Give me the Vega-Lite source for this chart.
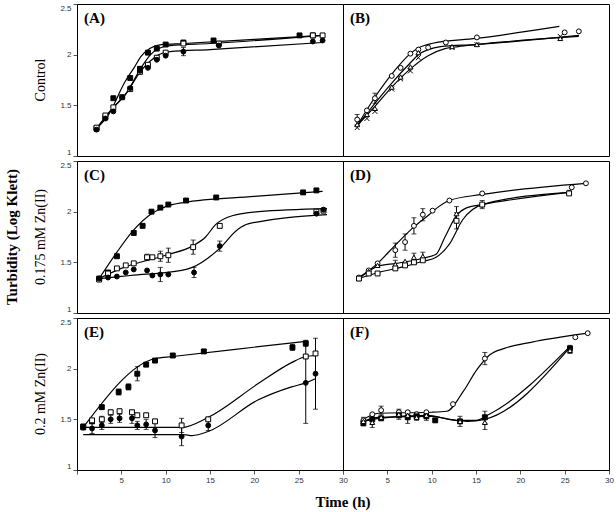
{
  "$schema": "https://vega.github.io/schema/vega-lite/v6.json",
  "background": "white",
  "padding": {"left": 4, "top": 3, "right": 2, "bottom": 0},
  "bounds": "flush",
  "datasets": {
    "panels": [
      {"p": "(A)", "r": "Control", "c": 1},
      {"p": "(B)", "r": "Control", "c": 2},
      {"p": "(C)", "r": "0.175 mM Zn(II)", "c": 1},
      {"p": "(D)", "r": "0.175 mM Zn(II)", "c": 2},
      {"p": "(E)", "r": "0.2 mM Zn(II)", "c": 1},
      {"p": "(F)", "r": "0.2 mM Zn(II)", "c": 2}
    ]
  },
  "data": {"values": [
    {"p":"(A)","k":"pt","s":1,"m":"sq","t":2.2,"v":1.27},
    {"p":"(A)","k":"pt","s":1,"m":"sq","t":3.2,"v":1.38},
    {"p":"(A)","k":"pt","s":1,"m":"sq","t":4.1,"v":1.57},
    {"p":"(A)","k":"pt","s":1,"m":"sq","t":6.0,"v":1.77},
    {"p":"(A)","k":"pt","s":1,"m":"sq","t":7.1,"v":1.86},
    {"p":"(A)","k":"pt","s":1,"m":"sq","t":8.0,"v":2.02},
    {"p":"(A)","k":"pt","s":1,"m":"sq","t":9.0,"v":2.06},
    {"p":"(A)","k":"pt","s":1,"m":"sq","t":10.0,"v":2.10},
    {"p":"(A)","k":"pt","s":1,"m":"sq","t":12.0,"v":2.12,"e":0.02},
    {"p":"(A)","k":"pt","s":1,"m":"sq","t":15.4,"v":2.14},
    {"p":"(A)","k":"pt","s":1,"m":"sq","t":25.1,"v":2.19},
    {"p":"(A)","k":"pt","s":1,"m":"sq","t":26.6,"v":2.19},
    {"p":"(A)","k":"pt","s":2,"m":"osq","t":2.2,"v":1.28},
    {"p":"(A)","k":"pt","s":2,"m":"osq","t":3.2,"v":1.40},
    {"p":"(A)","k":"pt","s":2,"m":"osq","t":4.1,"v":1.48},
    {"p":"(A)","k":"pt","s":2,"m":"osq","t":5.1,"v":1.58},
    {"p":"(A)","k":"pt","s":2,"m":"osq","t":6.0,"v":1.66},
    {"p":"(A)","k":"pt","s":2,"m":"osq","t":7.1,"v":1.83},
    {"p":"(A)","k":"pt","s":2,"m":"osq","t":8.0,"v":1.90},
    {"p":"(A)","k":"pt","s":2,"m":"osq","t":9.0,"v":1.97},
    {"p":"(A)","k":"pt","s":2,"m":"osq","t":10.0,"v":2.02},
    {"p":"(A)","k":"pt","s":2,"m":"osq","t":12.0,"v":2.11},
    {"p":"(A)","k":"pt","s":2,"m":"osq","t":16.0,"v":2.11},
    {"p":"(A)","k":"pt","s":2,"m":"osq","t":26.6,"v":2.19},
    {"p":"(A)","k":"pt","s":2,"m":"osq","t":27.7,"v":2.19},
    {"p":"(A)","k":"pt","s":3,"m":"ci","t":2.2,"v":1.26},
    {"p":"(A)","k":"pt","s":3,"m":"ci","t":3.2,"v":1.37},
    {"p":"(A)","k":"pt","s":3,"m":"ci","t":4.1,"v":1.44},
    {"p":"(A)","k":"pt","s":3,"m":"ci","t":5.1,"v":1.58},
    {"p":"(A)","k":"pt","s":3,"m":"ci","t":6.0,"v":1.67},
    {"p":"(A)","k":"pt","s":3,"m":"ci","t":7.1,"v":1.84},
    {"p":"(A)","k":"pt","s":3,"m":"ci","t":8.0,"v":1.87},
    {"p":"(A)","k":"pt","s":3,"m":"ci","t":9.0,"v":1.95},
    {"p":"(A)","k":"pt","s":3,"m":"ci","t":10.0,"v":1.99},
    {"p":"(A)","k":"pt","s":3,"m":"ci","t":12.0,"v":2.03,"e":0.04},
    {"p":"(A)","k":"pt","s":3,"m":"ci","t":16.0,"v":2.09},
    {"p":"(A)","k":"pt","s":3,"m":"ci","t":26.6,"v":2.13},
    {"p":"(A)","k":"pt","s":3,"m":"ci","t":27.7,"v":2.14},
    {"p":"(A)","k":"fit","s":1,"t":2.2,"v":1.27},
    {"p":"(A)","k":"fit","s":1,"t":3.5,"v":1.40},
    {"p":"(A)","k":"fit","s":1,"t":5.4,"v":1.73},
    {"p":"(A)","k":"fit","s":1,"t":6.5,"v":1.88},
    {"p":"(A)","k":"fit","s":1,"t":7.2,"v":1.98},
    {"p":"(A)","k":"fit","s":1,"t":8.2,"v":2.06},
    {"p":"(A)","k":"fit","s":1,"t":9.5,"v":2.10},
    {"p":"(A)","k":"fit","s":1,"t":12.0,"v":2.11},
    {"p":"(A)","k":"fit","s":1,"t":20.0,"v":2.15},
    {"p":"(A)","k":"fit","s":1,"t":27.7,"v":2.19},
    {"p":"(A)","k":"fit","s":2,"t":2.2,"v":1.27},
    {"p":"(A)","k":"fit","s":2,"t":4.0,"v":1.47},
    {"p":"(A)","k":"fit","s":2,"t":5.4,"v":1.60},
    {"p":"(A)","k":"fit","s":2,"t":7.3,"v":1.88},
    {"p":"(A)","k":"fit","s":2,"t":8.3,"v":2.00},
    {"p":"(A)","k":"fit","s":2,"t":9.2,"v":2.06},
    {"p":"(A)","k":"fit","s":2,"t":10.5,"v":2.09},
    {"p":"(A)","k":"fit","s":2,"t":15.0,"v":2.11},
    {"p":"(A)","k":"fit","s":2,"t":27.7,"v":2.19},
    {"p":"(A)","k":"fit","s":3,"t":2.2,"v":1.27},
    {"p":"(A)","k":"fit","s":3,"t":4.0,"v":1.47},
    {"p":"(A)","k":"fit","s":3,"t":5.4,"v":1.60},
    {"p":"(A)","k":"fit","s":3,"t":7.3,"v":1.85},
    {"p":"(A)","k":"fit","s":3,"t":8.3,"v":1.94},
    {"p":"(A)","k":"fit","s":3,"t":9.2,"v":2.00},
    {"p":"(A)","k":"fit","s":3,"t":10.5,"v":2.03},
    {"p":"(A)","k":"fit","s":3,"t":15.0,"v":2.05},
    {"p":"(A)","k":"fit","s":3,"t":27.7,"v":2.12},

    {"p":"(B)","k":"pt","s":1,"m":"oci","t":1.6,"v":1.36,"e":0.05},
    {"p":"(B)","k":"pt","s":1,"m":"oci","t":2.7,"v":1.45},
    {"p":"(B)","k":"pt","s":1,"m":"oci","t":3.6,"v":1.57,"e":0.05},
    {"p":"(B)","k":"pt","s":1,"m":"oci","t":5.5,"v":1.79},
    {"p":"(B)","k":"pt","s":1,"m":"oci","t":6.5,"v":1.87},
    {"p":"(B)","k":"pt","s":1,"m":"oci","t":7.6,"v":2.01},
    {"p":"(B)","k":"pt","s":1,"m":"oci","t":8.5,"v":2.05},
    {"p":"(B)","k":"pt","s":1,"m":"oci","t":9.6,"v":2.07},
    {"p":"(B)","k":"pt","s":1,"m":"oci","t":11.6,"v":2.12},
    {"p":"(B)","k":"pt","s":1,"m":"oci","t":15.1,"v":2.17},
    {"p":"(B)","k":"pt","s":1,"m":"oci","t":25.0,"v":2.22},
    {"p":"(B)","k":"pt","s":1,"m":"oci","t":26.6,"v":2.23},
    {"p":"(B)","k":"pt","s":2,"m":"x","t":1.6,"v":1.28},
    {"p":"(B)","k":"pt","s":2,"m":"x","t":2.7,"v":1.37},
    {"p":"(B)","k":"pt","s":2,"m":"x","t":3.6,"v":1.44},
    {"p":"(B)","k":"pt","s":2,"m":"x","t":5.5,"v":1.66},
    {"p":"(B)","k":"pt","s":2,"m":"x","t":6.5,"v":1.76},
    {"p":"(B)","k":"pt","s":2,"m":"x","t":7.6,"v":1.84},
    {"p":"(B)","k":"pt","s":2,"m":"x","t":8.5,"v":1.97},
    {"p":"(B)","k":"pt","s":2,"m":"x","t":12.3,"v":2.07},
    {"p":"(B)","k":"pt","s":2,"m":"x","t":15.1,"v":2.10},
    {"p":"(B)","k":"pt","s":2,"m":"x","t":24.5,"v":2.18},
    {"p":"(B)","k":"pt","s":3,"m":"tri","t":1.6,"v":1.31},
    {"p":"(B)","k":"pt","s":3,"m":"tri","t":2.7,"v":1.41},
    {"p":"(B)","k":"pt","s":3,"m":"tri","t":3.6,"v":1.47},
    {"p":"(B)","k":"pt","s":3,"m":"tri","t":5.5,"v":1.68},
    {"p":"(B)","k":"pt","s":3,"m":"tri","t":6.5,"v":1.78},
    {"p":"(B)","k":"pt","s":3,"m":"tri","t":7.6,"v":1.88},
    {"p":"(B)","k":"pt","s":3,"m":"tri","t":8.5,"v":2.02},
    {"p":"(B)","k":"pt","s":3,"m":"tri","t":12.3,"v":2.08},
    {"p":"(B)","k":"pt","s":3,"m":"tri","t":15.1,"v":2.10},
    {"p":"(B)","k":"pt","s":3,"m":"tri","t":24.5,"v":2.16},
    {"p":"(B)","k":"fit","s":1,"t":1.6,"v":1.30},
    {"p":"(B)","k":"fit","s":1,"t":3.6,"v":1.58},
    {"p":"(B)","k":"fit","s":1,"t":5.8,"v":1.84},
    {"p":"(B)","k":"fit","s":1,"t":7.6,"v":2.01},
    {"p":"(B)","k":"fit","s":1,"t":8.6,"v":2.07},
    {"p":"(B)","k":"fit","s":1,"t":10.0,"v":2.11},
    {"p":"(B)","k":"fit","s":1,"t":15.0,"v":2.16},
    {"p":"(B)","k":"fit","s":1,"t":24.4,"v":2.28},
    {"p":"(B)","k":"fit","s":2,"t":1.6,"v":1.30},
    {"p":"(B)","k":"fit","s":2,"t":3.6,"v":1.52},
    {"p":"(B)","k":"fit","s":2,"t":5.5,"v":1.72},
    {"p":"(B)","k":"fit","s":2,"t":7.6,"v":1.92},
    {"p":"(B)","k":"fit","s":2,"t":8.5,"v":2.00},
    {"p":"(B)","k":"fit","s":2,"t":9.6,"v":2.05},
    {"p":"(B)","k":"fit","s":2,"t":11.0,"v":2.08},
    {"p":"(B)","k":"fit","s":2,"t":15.0,"v":2.10},
    {"p":"(B)","k":"fit","s":2,"t":26.6,"v":2.19},
    {"p":"(B)","k":"fit","s":3,"t":1.6,"v":1.30},
    {"p":"(B)","k":"fit","s":3,"t":3.6,"v":1.49},
    {"p":"(B)","k":"fit","s":3,"t":5.5,"v":1.68},
    {"p":"(B)","k":"fit","s":3,"t":7.6,"v":1.86},
    {"p":"(B)","k":"fit","s":3,"t":9.6,"v":1.99},
    {"p":"(B)","k":"fit","s":3,"t":11.5,"v":2.06},
    {"p":"(B)","k":"fit","s":3,"t":13.0,"v":2.08},
    {"p":"(B)","k":"fit","s":3,"t":15.0,"v":2.10},
    {"p":"(B)","k":"fit","s":3,"t":26.6,"v":2.18},

    {"p":"(C)","k":"pt","s":1,"m":"sq","t":2.5,"v":1.34},
    {"p":"(C)","k":"pt","s":1,"m":"sq","t":3.5,"v":1.40},
    {"p":"(C)","k":"pt","s":1,"m":"sq","t":4.5,"v":1.56},
    {"p":"(C)","k":"pt","s":1,"m":"sq","t":6.4,"v":1.79},
    {"p":"(C)","k":"pt","s":1,"m":"sq","t":7.4,"v":1.86},
    {"p":"(C)","k":"pt","s":1,"m":"sq","t":8.4,"v":2.00},
    {"p":"(C)","k":"pt","s":1,"m":"sq","t":9.4,"v":2.04},
    {"p":"(C)","k":"pt","s":1,"m":"sq","t":10.3,"v":2.07},
    {"p":"(C)","k":"pt","s":1,"m":"sq","t":12.3,"v":2.11},
    {"p":"(C)","k":"pt","s":1,"m":"sq","t":15.7,"v":2.14},
    {"p":"(C)","k":"pt","s":1,"m":"sq","t":25.5,"v":2.19},
    {"p":"(C)","k":"pt","s":1,"m":"sq","t":27.0,"v":2.21},
    {"p":"(C)","k":"pt","s":2,"m":"osq","t":2.5,"v":1.33},
    {"p":"(C)","k":"pt","s":2,"m":"osq","t":3.5,"v":1.39},
    {"p":"(C)","k":"pt","s":2,"m":"osq","t":4.5,"v":1.44},
    {"p":"(C)","k":"pt","s":2,"m":"osq","t":5.5,"v":1.47},
    {"p":"(C)","k":"pt","s":2,"m":"osq","t":6.4,"v":1.49},
    {"p":"(C)","k":"pt","s":2,"m":"osq","t":7.9,"v":1.55,"e":0.03},
    {"p":"(C)","k":"pt","s":2,"m":"osq","t":8.5,"v":1.55},
    {"p":"(C)","k":"pt","s":2,"m":"osq","t":9.4,"v":1.56,"e":0.05},
    {"p":"(C)","k":"pt","s":2,"m":"osq","t":10.3,"v":1.57,"e":0.07},
    {"p":"(C)","k":"pt","s":2,"m":"osq","t":13.1,"v":1.65,"e":0.07},
    {"p":"(C)","k":"pt","s":2,"m":"osq","t":16.1,"v":1.86,"e":0.02},
    {"p":"(C)","k":"pt","s":2,"m":"osq","t":27.0,"v":2.00},
    {"p":"(C)","k":"pt","s":2,"m":"osq","t":27.8,"v":2.01},
    {"p":"(C)","k":"pt","s":3,"m":"ci","t":2.5,"v":1.34},
    {"p":"(C)","k":"pt","s":3,"m":"ci","t":3.5,"v":1.35},
    {"p":"(C)","k":"pt","s":3,"m":"ci","t":4.5,"v":1.36},
    {"p":"(C)","k":"pt","s":3,"m":"ci","t":5.5,"v":1.40},
    {"p":"(C)","k":"pt","s":3,"m":"ci","t":6.4,"v":1.43},
    {"p":"(C)","k":"pt","s":3,"m":"ci","t":7.9,"v":1.42},
    {"p":"(C)","k":"pt","s":3,"m":"ci","t":8.5,"v":1.37},
    {"p":"(C)","k":"pt","s":3,"m":"ci","t":9.4,"v":1.38,"e":0.07},
    {"p":"(C)","k":"pt","s":3,"m":"ci","t":10.3,"v":1.38},
    {"p":"(C)","k":"pt","s":3,"m":"ci","t":13.2,"v":1.40,"e":0.05},
    {"p":"(C)","k":"pt","s":3,"m":"ci","t":16.1,"v":1.66,"e":0.05},
    {"p":"(C)","k":"pt","s":3,"m":"ci","t":27.0,"v":1.98},
    {"p":"(C)","k":"pt","s":3,"m":"ci","t":27.8,"v":2.02},
    {"p":"(C)","k":"fit","s":1,"t":2.5,"v":1.34},
    {"p":"(C)","k":"fit","s":1,"t":4.5,"v":1.60},
    {"p":"(C)","k":"fit","s":1,"t":6.4,"v":1.82},
    {"p":"(C)","k":"fit","s":1,"t":8.4,"v":1.98},
    {"p":"(C)","k":"fit","s":1,"t":10.0,"v":2.05},
    {"p":"(C)","k":"fit","s":1,"t":12.0,"v":2.09},
    {"p":"(C)","k":"fit","s":1,"t":20.0,"v":2.15},
    {"p":"(C)","k":"fit","s":1,"t":27.7,"v":2.20},
    {"p":"(C)","k":"fit","s":2,"t":2.5,"v":1.34},
    {"p":"(C)","k":"fit","s":2,"t":5.0,"v":1.44},
    {"p":"(C)","k":"fit","s":2,"t":10.0,"v":1.57},
    {"p":"(C)","k":"fit","s":2,"t":13.0,"v":1.66},
    {"p":"(C)","k":"fit","s":2,"t":14.5,"v":1.75},
    {"p":"(C)","k":"fit","s":2,"t":15.6,"v":1.87},
    {"p":"(C)","k":"fit","s":2,"t":17.5,"v":1.96},
    {"p":"(C)","k":"fit","s":2,"t":20.5,"v":2.00},
    {"p":"(C)","k":"fit","s":2,"t":28.2,"v":2.03},
    {"p":"(C)","k":"fit","s":3,"t":2.5,"v":1.34},
    {"p":"(C)","k":"fit","s":3,"t":6.0,"v":1.37},
    {"p":"(C)","k":"fit","s":3,"t":11.8,"v":1.42},
    {"p":"(C)","k":"fit","s":3,"t":13.0,"v":1.45},
    {"p":"(C)","k":"fit","s":3,"t":16.0,"v":1.63},
    {"p":"(C)","k":"fit","s":3,"t":18.2,"v":1.83},
    {"p":"(C)","k":"fit","s":3,"t":19.3,"v":1.88},
    {"p":"(C)","k":"fit","s":3,"t":28.2,"v":1.97},

    {"p":"(D)","k":"pt","s":1,"m":"oci","t":1.8,"v":1.35},
    {"p":"(D)","k":"pt","s":1,"m":"oci","t":2.9,"v":1.42},
    {"p":"(D)","k":"pt","s":1,"m":"oci","t":3.9,"v":1.49},
    {"p":"(D)","k":"pt","s":1,"m":"oci","t":5.9,"v":1.62,"e":0.07},
    {"p":"(D)","k":"pt","s":1,"m":"oci","t":7.0,"v":1.70,"e":0.08},
    {"p":"(D)","k":"pt","s":1,"m":"oci","t":8.0,"v":1.86,"e":0.08},
    {"p":"(D)","k":"pt","s":1,"m":"oci","t":9.0,"v":1.97,"e":0.06},
    {"p":"(D)","k":"pt","s":1,"m":"oci","t":10.1,"v":2.01},
    {"p":"(D)","k":"pt","s":1,"m":"oci","t":12.0,"v":2.11},
    {"p":"(D)","k":"pt","s":1,"m":"oci","t":15.7,"v":2.18},
    {"p":"(D)","k":"pt","s":1,"m":"oci","t":25.8,"v":2.24},
    {"p":"(D)","k":"pt","s":1,"m":"oci","t":27.4,"v":2.28},
    {"p":"(D)","k":"pt","s":2,"m":"tri","t":1.8,"v":1.34},
    {"p":"(D)","k":"pt","s":2,"m":"tri","t":2.9,"v":1.41},
    {"p":"(D)","k":"pt","s":2,"m":"tri","t":3.9,"v":1.47},
    {"p":"(D)","k":"pt","s":2,"m":"tri","t":5.9,"v":1.48,"e":0.04},
    {"p":"(D)","k":"pt","s":2,"m":"tri","t":7.0,"v":1.51},
    {"p":"(D)","k":"pt","s":2,"m":"tri","t":8.0,"v":1.55,"e":0.04},
    {"p":"(D)","k":"pt","s":2,"m":"tri","t":9.0,"v":1.56,"e":0.04},
    {"p":"(D)","k":"pt","s":2,"m":"tri","t":12.8,"v":1.98,"e":0.07},
    {"p":"(D)","k":"pt","s":2,"m":"tri","t":15.7,"v":2.07,"e":0.04},
    {"p":"(D)","k":"pt","s":2,"m":"tri","t":25.5,"v":2.19,"e":0.02},
    {"p":"(D)","k":"pt","s":3,"m":"osq","t":1.8,"v":1.34},
    {"p":"(D)","k":"pt","s":3,"m":"osq","t":2.9,"v":1.39},
    {"p":"(D)","k":"pt","s":3,"m":"osq","t":3.9,"v":1.39},
    {"p":"(D)","k":"pt","s":3,"m":"osq","t":5.9,"v":1.44},
    {"p":"(D)","k":"pt","s":3,"m":"osq","t":7.0,"v":1.47},
    {"p":"(D)","k":"pt","s":3,"m":"osq","t":8.0,"v":1.50},
    {"p":"(D)","k":"pt","s":3,"m":"osq","t":9.0,"v":1.52},
    {"p":"(D)","k":"pt","s":3,"m":"osq","t":12.8,"v":1.91,"e":0.08},
    {"p":"(D)","k":"pt","s":3,"m":"osq","t":15.7,"v":2.07},
    {"p":"(D)","k":"pt","s":3,"m":"osq","t":25.5,"v":2.18},
    {"p":"(D)","k":"fit","s":1,"t":1.8,"v":1.35},
    {"p":"(D)","k":"fit","s":1,"t":3.9,"v":1.49},
    {"p":"(D)","k":"fit","s":1,"t":5.9,"v":1.67},
    {"p":"(D)","k":"fit","s":1,"t":8.0,"v":1.85},
    {"p":"(D)","k":"fit","s":1,"t":9.7,"v":1.97},
    {"p":"(D)","k":"fit","s":1,"t":10.5,"v":2.03},
    {"p":"(D)","k":"fit","s":1,"t":12.0,"v":2.11},
    {"p":"(D)","k":"fit","s":1,"t":15.7,"v":2.17},
    {"p":"(D)","k":"fit","s":1,"t":27.4,"v":2.28},
    {"p":"(D)","k":"fit","s":2,"t":1.8,"v":1.34},
    {"p":"(D)","k":"fit","s":2,"t":3.9,"v":1.46},
    {"p":"(D)","k":"fit","s":2,"t":6.0,"v":1.49},
    {"p":"(D)","k":"fit","s":2,"t":9.0,"v":1.54},
    {"p":"(D)","k":"fit","s":2,"t":10.5,"v":1.58},
    {"p":"(D)","k":"fit","s":2,"t":11.5,"v":1.75},
    {"p":"(D)","k":"fit","s":2,"t":12.8,"v":1.96},
    {"p":"(D)","k":"fit","s":2,"t":14.0,"v":2.04},
    {"p":"(D)","k":"fit","s":2,"t":15.7,"v":2.07},
    {"p":"(D)","k":"fit","s":2,"t":25.5,"v":2.19},
    {"p":"(D)","k":"fit","s":3,"t":1.8,"v":1.34},
    {"p":"(D)","k":"fit","s":3,"t":4.0,"v":1.40},
    {"p":"(D)","k":"fit","s":3,"t":7.0,"v":1.46},
    {"p":"(D)","k":"fit","s":3,"t":9.0,"v":1.51},
    {"p":"(D)","k":"fit","s":3,"t":10.5,"v":1.55},
    {"p":"(D)","k":"fit","s":3,"t":12.0,"v":1.68},
    {"p":"(D)","k":"fit","s":3,"t":13.5,"v":1.92},
    {"p":"(D)","k":"fit","s":3,"t":15.7,"v":2.07},
    {"p":"(D)","k":"fit","s":3,"t":25.5,"v":2.19},

    {"p":"(E)","k":"pt","s":1,"m":"sq","t":0.7,"v":1.43},
    {"p":"(E)","k":"pt","s":1,"m":"sq","t":1.7,"v":1.48},
    {"p":"(E)","k":"pt","s":1,"m":"sq","t":2.8,"v":1.62,"e":0.02},
    {"p":"(E)","k":"pt","s":1,"m":"sq","t":4.7,"v":1.77,"e":0.03},
    {"p":"(E)","k":"pt","s":1,"m":"sq","t":5.8,"v":1.82,"e":0.03},
    {"p":"(E)","k":"pt","s":1,"m":"sq","t":6.8,"v":1.95,"e":0.07},
    {"p":"(E)","k":"pt","s":1,"m":"sq","t":7.8,"v":2.04,"e":0.02},
    {"p":"(E)","k":"pt","s":1,"m":"sq","t":8.8,"v":2.08,"e":0.02},
    {"p":"(E)","k":"pt","s":1,"m":"sq","t":10.8,"v":2.13,"e":0.02},
    {"p":"(E)","k":"pt","s":1,"m":"sq","t":14.3,"v":2.17,"e":0.02},
    {"p":"(E)","k":"pt","s":1,"m":"sq","t":24.3,"v":2.21,"e":0.03},
    {"p":"(E)","k":"pt","s":1,"m":"sq","t":25.8,"v":2.25,"e":0.03},
    {"p":"(E)","k":"pt","s":2,"m":"osq","t":0.7,"v":1.42},
    {"p":"(E)","k":"pt","s":2,"m":"osq","t":1.7,"v":1.49},
    {"p":"(E)","k":"pt","s":2,"m":"osq","t":2.8,"v":1.50,"e":0.03},
    {"p":"(E)","k":"pt","s":2,"m":"osq","t":3.8,"v":1.57,"e":0.02},
    {"p":"(E)","k":"pt","s":2,"m":"osq","t":4.8,"v":1.58,"e":0.02},
    {"p":"(E)","k":"pt","s":2,"m":"osq","t":6.2,"v":1.57,"e":0.02},
    {"p":"(E)","k":"pt","s":2,"m":"osq","t":6.8,"v":1.54,"e":0.02},
    {"p":"(E)","k":"pt","s":2,"m":"osq","t":7.8,"v":1.54,"e":0.02},
    {"p":"(E)","k":"pt","s":2,"m":"osq","t":8.8,"v":1.48,"e":0.02},
    {"p":"(E)","k":"pt","s":2,"m":"osq","t":11.8,"v":1.44,"e":0.07},
    {"p":"(E)","k":"pt","s":2,"m":"osq","t":14.8,"v":1.50,"e":0.02},
    {"p":"(E)","k":"pt","s":2,"m":"osq","t":25.8,"v":2.12,"e":0.02},
    {"p":"(E)","k":"pt","s":2,"m":"osq","t":26.9,"v":2.15,"e":0.02},
    {"p":"(E)","k":"pt","s":3,"m":"ci","t":0.7,"v":1.42,"e":0.02},
    {"p":"(E)","k":"pt","s":3,"m":"ci","t":1.7,"v":1.41,"e":0.05},
    {"p":"(E)","k":"pt","s":3,"m":"ci","t":2.8,"v":1.44,"e":0.04},
    {"p":"(E)","k":"pt","s":3,"m":"ci","t":3.8,"v":1.50,"e":0.04},
    {"p":"(E)","k":"pt","s":3,"m":"ci","t":4.8,"v":1.51,"e":0.04},
    {"p":"(E)","k":"pt","s":3,"m":"ci","t":6.2,"v":1.51,"e":0.05},
    {"p":"(E)","k":"pt","s":3,"m":"ci","t":6.8,"v":1.44,"e":0.04},
    {"p":"(E)","k":"pt","s":3,"m":"ci","t":7.8,"v":1.45,"e":0.05},
    {"p":"(E)","k":"pt","s":3,"m":"ci","t":8.8,"v":1.39,"e":0.07},
    {"p":"(E)","k":"pt","s":3,"m":"ci","t":11.8,"v":1.33,"e":0.09},
    {"p":"(E)","k":"pt","s":3,"m":"ci","t":14.8,"v":1.44,"e":0.05},
    {"p":"(E)","k":"pt","s":3,"m":"ci","t":25.8,"v":1.86,"e":0.40},
    {"p":"(E)","k":"pt","s":3,"m":"ci","t":26.9,"v":1.95,"e":0.35},
    {"p":"(E)","k":"fit","s":1,"t":0.7,"v":1.42},
    {"p":"(E)","k":"fit","s":1,"t":8.8,"v":2.10},
    {"p":"(E)","k":"fit","s":1,"t":10.8,"v":2.12},
    {"p":"(E)","k":"fit","s":1,"t":25.8,"v":2.27},
    {"p":"(E)","k":"fit","s":2,"t":0.7,"v":1.42},
    {"p":"(E)","k":"fit","s":2,"t":11.8,"v":1.42},
    {"p":"(E)","k":"fit","s":2,"t":14.8,"v":1.52},
    {"p":"(E)","k":"fit","s":2,"t":20.4,"v":1.85},
    {"p":"(E)","k":"fit","s":2,"t":24.2,"v":2.06},
    {"p":"(E)","k":"fit","s":2,"t":25.8,"v":2.12},
    {"p":"(E)","k":"fit","s":2,"t":26.9,"v":2.13},
    {"p":"(E)","k":"fit","s":3,"t":0.7,"v":1.35},
    {"p":"(E)","k":"fit","s":3,"t":12.0,"v":1.35},
    {"p":"(E)","k":"fit","s":3,"t":13.0,"v":1.34},
    {"p":"(E)","k":"fit","s":3,"t":14.8,"v":1.38},
    {"p":"(E)","k":"fit","s":3,"t":20.4,"v":1.69},
    {"p":"(E)","k":"fit","s":3,"t":24.2,"v":1.82},
    {"p":"(E)","k":"fit","s":3,"t":25.8,"v":1.86},
    {"p":"(E)","k":"fit","s":3,"t":26.9,"v":1.90},

    {"p":"(F)","k":"pt","s":1,"m":"oci","t":2.3,"v":1.49},
    {"p":"(F)","k":"pt","s":1,"m":"oci","t":3.3,"v":1.55},
    {"p":"(F)","k":"pt","s":1,"m":"oci","t":4.3,"v":1.59,"e":0.04},
    {"p":"(F)","k":"pt","s":1,"m":"oci","t":6.3,"v":1.57,"e":0.03},
    {"p":"(F)","k":"pt","s":1,"m":"oci","t":7.3,"v":1.57},
    {"p":"(F)","k":"pt","s":1,"m":"oci","t":8.3,"v":1.55},
    {"p":"(F)","k":"pt","s":1,"m":"oci","t":9.4,"v":1.57},
    {"p":"(F)","k":"pt","s":1,"m":"oci","t":12.4,"v":1.65},
    {"p":"(F)","k":"pt","s":1,"m":"oci","t":16.0,"v":2.10,"e":0.06},
    {"p":"(F)","k":"pt","s":1,"m":"oci","t":26.2,"v":2.31},
    {"p":"(F)","k":"pt","s":1,"m":"oci","t":27.6,"v":2.35},
    {"p":"(F)","k":"pt","s":2,"m":"sq","t":2.3,"v":1.46},
    {"p":"(F)","k":"pt","s":2,"m":"sq","t":3.3,"v":1.50,"e":0.04},
    {"p":"(F)","k":"pt","s":2,"m":"sq","t":4.3,"v":1.51},
    {"p":"(F)","k":"pt","s":2,"m":"sq","t":6.3,"v":1.54,"e":0.04},
    {"p":"(F)","k":"pt","s":2,"m":"sq","t":7.3,"v":1.52,"e":0.06},
    {"p":"(F)","k":"pt","s":2,"m":"sq","t":8.3,"v":1.53,"e":0.04},
    {"p":"(F)","k":"pt","s":2,"m":"sq","t":9.4,"v":1.53,"e":0.04},
    {"p":"(F)","k":"pt","s":2,"m":"sq","t":10.4,"v":1.49},
    {"p":"(F)","k":"pt","s":2,"m":"sq","t":13.2,"v":1.48,"e":0.05},
    {"p":"(F)","k":"pt","s":2,"m":"sq","t":16.0,"v":1.52,"e":0.06},
    {"p":"(F)","k":"pt","s":2,"m":"sq","t":25.6,"v":2.20,"e":0.03},
    {"p":"(F)","k":"pt","s":3,"m":"tri","t":2.3,"v":1.48,"e":0.04},
    {"p":"(F)","k":"pt","s":3,"m":"tri","t":3.3,"v":1.47,"e":0.05},
    {"p":"(F)","k":"pt","s":3,"m":"tri","t":4.3,"v":1.52},
    {"p":"(F)","k":"pt","s":3,"m":"tri","t":6.3,"v":1.55},
    {"p":"(F)","k":"pt","s":3,"m":"tri","t":7.3,"v":1.54},
    {"p":"(F)","k":"pt","s":3,"m":"tri","t":8.3,"v":1.52},
    {"p":"(F)","k":"pt","s":3,"m":"tri","t":9.4,"v":1.54},
    {"p":"(F)","k":"pt","s":3,"m":"tri","t":13.2,"v":1.48},
    {"p":"(F)","k":"pt","s":3,"m":"tri","t":16.0,"v":1.47,"e":0.07},
    {"p":"(F)","k":"pt","s":3,"m":"tri","t":25.6,"v":2.18,"e":0.03},
    {"p":"(F)","k":"fit","s":1,"t":2.3,"v":1.50},
    {"p":"(F)","k":"fit","s":1,"t":4.0,"v":1.56},
    {"p":"(F)","k":"fit","s":1,"t":10.0,"v":1.57},
    {"p":"(F)","k":"fit","s":1,"t":11.7,"v":1.58},
    {"p":"(F)","k":"fit","s":1,"t":13.6,"v":1.78},
    {"p":"(F)","k":"fit","s":1,"t":15.1,"v":1.99},
    {"p":"(F)","k":"fit","s":1,"t":16.6,"v":2.14},
    {"p":"(F)","k":"fit","s":1,"t":18.2,"v":2.20},
    {"p":"(F)","k":"fit","s":1,"t":21.2,"v":2.26},
    {"p":"(F)","k":"fit","s":1,"t":27.6,"v":2.35},
    {"p":"(F)","k":"fit","s":2,"t":2.3,"v":1.48},
    {"p":"(F)","k":"fit","s":2,"t":4.0,"v":1.52},
    {"p":"(F)","k":"fit","s":2,"t":10.0,"v":1.53},
    {"p":"(F)","k":"fit","s":2,"t":13.0,"v":1.49},
    {"p":"(F)","k":"fit","s":2,"t":15.0,"v":1.49},
    {"p":"(F)","k":"fit","s":2,"t":16.5,"v":1.55},
    {"p":"(F)","k":"fit","s":2,"t":25.6,"v":2.22},
    {"p":"(F)","k":"fit","s":3,"t":2.3,"v":1.48},
    {"p":"(F)","k":"fit","s":3,"t":4.0,"v":1.51},
    {"p":"(F)","k":"fit","s":3,"t":9.5,"v":1.54},
    {"p":"(F)","k":"fit","s":3,"t":12.0,"v":1.50},
    {"p":"(F)","k":"fit","s":3,"t":14.0,"v":1.48},
    {"p":"(F)","k":"fit","s":3,"t":16.0,"v":1.50},
    {"p":"(F)","k":"fit","s":3,"t":25.6,"v":2.21}
  ]},
  "transform": [
    {"lookup": "p", "from": {"data": {"name": "panels"}, "key": "p", "fields": ["r", "c"]}}
  ],
  "facet": {
    "row": {
      "field": "r", "type": "nominal",
      "sort": ["Control", "0.175 mM Zn(II)", "0.2 mM Zn(II)"],
      "header": {
        "title": "Turbidity (Log Klett)", "titleOrient": "left",
        "titleFont": "Liberation Serif", "titleFontWeight": "bold", "titleFontSize": 15, "titleColor": "black",
        "titlePadding": 3,
        "labelOrient": "left", "labelAngle": -90, "labelFont": "Liberation Serif", "labelFontSize": 14,
        "labelColor": "black", "labelPadding": 5
      }
    },
    "column": {
      "field": "c", "type": "ordinal",
      "header": {
        "title": "Time (h)", "titleOrient": "bottom", "labels": false,
        "titleFont": "Liberation Serif", "titleFontWeight": "bold", "titleFontSize": 15, "titleColor": "black",
        "titlePadding": 1
      }
    }
  },
  "spacing": {"row": 5, "column": 0},
  "spec": {
    "width": 266,
    "height": 152,
    "layer": [
      {
        "transform": [{"filter": "datum.k === 'fit'"}],
        "mark": {"type": "line", "interpolate": "monotone", "color": "black", "strokeWidth": 1.2},
        "encoding": {
          "x": {"field": "t", "type": "quantitative", "title": null,
                "scale": {"domain": [0, 30], "nice": false},
                "axis": {"values": [0, 5, 10, 15, 20, 25, 30], "labelExpr": "datum.value == 0 ? '' : datum.label", "labelFlush": false}},
          "y": {"field": "v", "type": "quantitative", "title": null,
                "scale": {"domain": [1, 2.5], "nice": false, "zero": false},
                "axis": {"values": [1, 1.5, 2, 2.5], "format": "~g", "labelFlush": true, "labelFlushOffset": 0}},
          "detail": {"field": "s"},
          "order": {"field": "t"}
        }
      },
      {
        "transform": [{"filter": "datum.e > 0"}],
        "mark": {"type": "errorbar", "ticks": true, "color": "black"},
        "encoding": {
          "x": {"field": "t", "type": "quantitative", "title": null},
          "y": {"field": "v", "type": "quantitative", "title": null},
          "yError": {"field": "e"}
        }
      },
      {
        "transform": [{"filter": "datum.k === 'pt'"}],
        "mark": {"type": "point", "filled": true, "stroke": "black", "strokeWidth": 1, "size": 24, "opacity": 1},
        "encoding": {
          "x": {"field": "t", "type": "quantitative", "title": null},
          "y": {"field": "v", "type": "quantitative", "title": null},
          "shape": {"field": "m", "type": "nominal", "legend": null,
                    "scale": {"domain": ["sq", "osq", "ci", "oci", "x", "tri"],
                              "range": ["square", "square", "circle", "circle", "M-1,-1L1,1M-1,1L1,-1", "triangle-up"]}},
          "fill": {"field": "m", "type": "nominal", "legend": null,
                   "scale": {"domain": ["sq", "osq", "ci", "oci", "x", "tri"],
                             "range": ["black", "white", "black", "white", "black", "white"]}}
        }
      },
      {
        "transform": [{"filter": "datum.k === 'pt'"}, {"aggregate": [{"op": "count", "as": "n"}], "groupby": ["p"]}],
        "mark": {"type": "text", "font": "Liberation Serif", "fontWeight": "bold", "fontSize": 15, "align": "left", "baseline": "middle", "color": "black"},
        "encoding": {
          "x": {"datum": 0.8},
          "y": {"datum": 2.36},
          "text": {"field": "p"}
        }
      }
    ]
  },
  "config": {
    "view": {"stroke": "black", "strokeWidth": 1},
    "axis": {"grid": false, "labelFont": "Liberation Sans", "labelFontSize": 8, "labelColor": "#333",
             "domainColor": "#555", "tickColor": "#555", "tickSize": 4, "labelPadding": 2},
    "tick": {"thickness": 1}
  }
}
